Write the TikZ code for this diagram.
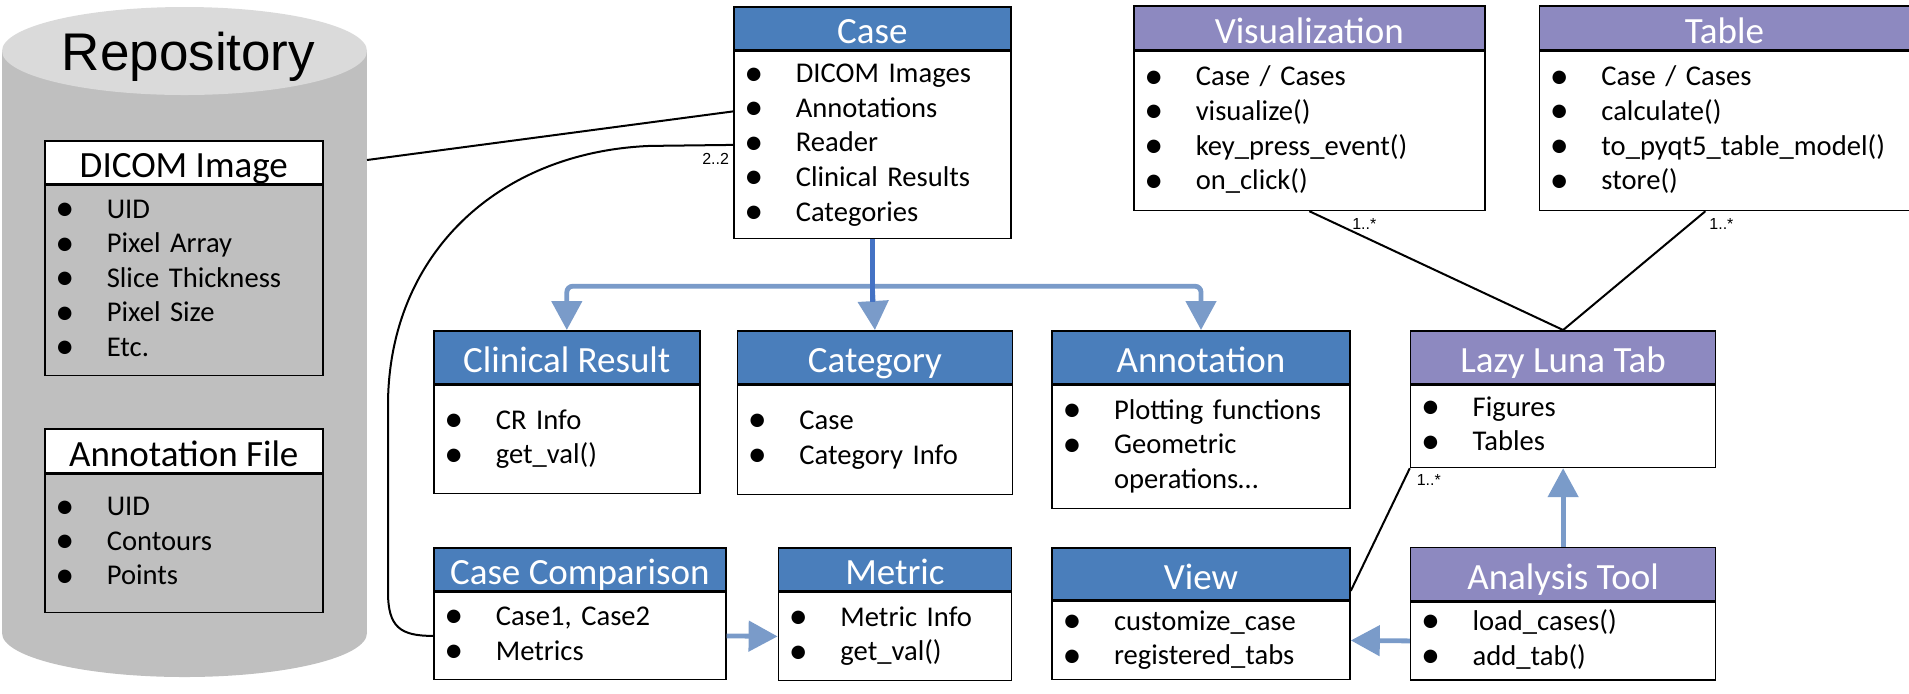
\documentclass[tikz,border=0pt]{standalone}
\usepackage{fontspec}
\setmainfont{Carlito}
\newfontfamily\arialfont{Liberation Sans}
\usetikzlibrary{arrows.meta, positioning, calc}
\definecolor{hdrblue}{RGB}{74,126,187}
\definecolor{hdrpurple}{RGB}{141,137,192}
\definecolor{arrblue}{RGB}{122,155,201}
\definecolor{darkblue}{RGB}{68,114,196}
\definecolor{repogray}{RGB}{191,191,191}
\definecolor{repotop}{RGB}{218,218,218}
\newcommand{\itm}[1]{\hspace*{7pt}\makebox[6pt]{\raisebox{-1.2pt}{\fontsize{19}{19}\selectfont\textbullet}}\hspace*{18pt}#1\strut}
\tikzstyle{cls}    = [rectangle, draw=black, line width=0.8pt, fill=hdrblue, text=white, inner sep=0pt,
                      text height=15.5pt, text depth=0pt, font=\fontsize{18.5}{20}\selectfont, minimum height=26.5pt]
\tikzstyle{pcls}   = [cls, fill=hdrpurple]
\tikzstyle{fcls}   = [cls, fill=white, text=black, minimum height=21.5pt]
\tikzstyle{attrs}  = [rectangle, draw=black, line width=0.8pt, fill=white, inner xsep=0pt, inner ysep=1pt,
                      align=left, font=\fontsize{14.3}{17.3}\selectfont]
\tikzstyle{fattrs} = [attrs, fill=none]
\tikzstyle{assoc}  = [draw=black, line width=1pt]
\tikzstyle{mult}   = [font=\arialfont\fontsize{8}{9}\selectfont, inner sep=0pt]
\tikzstyle{flow}   = [-{Triangle[width=15pt,length=14.5pt]}, draw=arrblue, line width=2.4pt]

\begin{document}
\begin{tikzpicture}[x=0.5pt, y=-0.5pt]
    \useasboundingbox (0,0) rectangle (1909,693);

    % repository
    \fill[repogray] (2,51) rectangle (367,633);
    \fill[repogray] (184.5,633) ellipse [x radius=91.25pt, y radius=22pt];
    \fill[repotop] (184.5,51) ellipse [x radius=91.25pt, y radius=22pt];
    \node[font=\arialfont\fontsize{26.5}{30}\selectfont, anchor=base] (repo) at (188.5,70) {Repository};
    \coordinate (repoedge) at (367,160);

    \node[fcls, minimum width=139pt, anchor=north west] (dicom) at (44,140) {DICOM Image};
    \node[fattrs, text width=139pt, minimum height=95pt, below=0pt of dicom] (dicomb)
        {\itm{UID}\\ \itm{Pixel Array}\\ \itm{Slice Thickness}\\ \itm{Pixel Size}\\ \itm{Etc.}};
    \node[fcls, minimum width=139pt, minimum height=22pt, anchor=north west] (annfile) at (44,428) {Annotation File};
    \node[fattrs, text width=139pt, minimum height=69pt, below=0pt of annfile] (annfileb)
        {\itm{UID}\\ \itm{Contours}\\ \itm{Points}};

    % top row
    \node[cls, minimum width=138.5pt, minimum height=21.5pt, anchor=north west] (case) at (733,6) {Case};
    \node[attrs, text width=138.5pt, minimum height=93.5pt, below=0pt of case] (caseb)
        {\itm{DICOM Images}\\ \itm{Annotations}\\ \itm{Reader}\\ \itm{Clinical Results}\\ \itm{Categories}};
    \node[pcls, minimum width=175.5pt, minimum height=22pt, anchor=north west] (vis) at (1133,5) {Visualization};
    \node[attrs, text width=175.5pt, minimum height=79.5pt, below=0pt of vis] (visb)
        {\itm{Case / Cases}\\ \itm{visualize()}\\ \itm{key\_press\_event()}\\ \itm{on\_click()}};
    \node[pcls, minimum width=185pt, minimum height=22pt, right=26.5pt of vis] (table) {Table};
    \node[attrs, text width=185pt, minimum height=79.5pt, below=0pt of table] (tableb)
        {\itm{Case / Cases}\\ \itm{calculate()}\\ \itm{to\_pyqt5\_table\_model()}\\ \itm{store()}};

    % middle row
    \node[cls, minimum width=133pt, anchor=north west] (clin) at (433,330) {Clinical Result};
    \node[attrs, text width=133pt, minimum height=54pt, below=0pt of clin] (clinb)
        {\itm{CR Info}\\ \itm{get\_val()}};
    \node[cls, minimum width=137.5pt, right=18pt of clin] (cat) {Category};
    \node[attrs, text width=137.5pt, minimum height=54.5pt, below=0pt of cat] (catb)
        {\itm{Case}\\ \itm{Category Info}};
    \node[cls, minimum width=149pt, right=19pt of cat] (annot) {Annotation};
    \node[attrs, text width=149pt, minimum height=61.5pt, below=0pt of annot] (annotb)
        {\itm{Plotting functions}\\ \itm{Geometric}\\ \hspace*{31pt}operations\ldots\strut};
    \node[pcls, minimum width=152.5pt, right=29.5pt of annot] (lazy) {Lazy Luna Tab};
    \node[attrs, text width=152.5pt, minimum height=41pt, below=0pt of lazy] (lazyb)
        {\itm{Figures}\\ \itm{Tables}};

    % bottom row
    \node[cls, minimum width=146pt, minimum height=21.5pt, anchor=north west] (cc) at (433,547) {Case Comparison};
    \node[attrs, text width=146pt, minimum height=43.5pt, below=0pt of cc] (ccb)
        {\itm{Case1, Case2}\\ \itm{Metrics}};
    \node[cls, minimum width=116.5pt, minimum height=21.5pt, right=25.5pt of cc] (met) {Metric};
    \node[attrs, text width=116.5pt, minimum height=44pt, below=0pt of met] (metb)
        {\itm{Metric Info}\\ \itm{get\_val()}};
    \node[cls, minimum width=149pt, minimum height=26pt, right=19.5pt of met.north east, anchor=north west] (view) {View};
    \node[attrs, text width=149pt, minimum height=39pt, below=0pt of view] (viewb)
        {\itm{customize\_case}\\ \itm{registered\_tabs}};
    \node[pcls, minimum width=152.5pt, right=29.5pt of view] (ana) {Analysis Tool};
    \node[attrs, text width=152.5pt, minimum height=39pt, below=0pt of ana] (anab)
        {\itm{load\_cases()}\\ \itm{add\_tab()}};

    % associations
    \draw[assoc] (repoedge) -- ([yshift=16.75pt]caseb.west);
    \draw[assoc] (caseb.west) node[mult, anchor=north east, xshift=-1.5pt, yshift=-3.75pt] {2..2}
        -- ++(-83,1) .. controls +(-150,6) and +(2,-150) .. ++(-262,256) -- ++(0,190)
        .. controls +(0,35) and +(-33,0) .. (ccb.west);
    \draw[assoc] (visb.south) node[mult, anchor=north west, xshift=21pt, yshift=-3pt] {1..*} -- (lazy.north);
    \draw[assoc] ([xshift=-9.5pt]tableb.south) node[mult, anchor=north west, xshift=1.5pt, yshift=-3pt] {1..*} -- (lazy.north);
    \draw[assoc] (lazyb.south west) node[mult, anchor=north west, xshift=3pt, yshift=-2.5pt] {1..*} -- ([yshift=-8.5pt]view.east);

    % flows
    \coordinate (split) at ($(caseb.south)+(0,47)$);
    \draw[flow, rounded corners=3pt] (split) -| (clin.north);
    \draw[flow, rounded corners=3pt] (split) -| (annot.north);
    \draw[flow] (split) -- (cat.north);
    \draw[draw=darkblue, line width=2.5pt] (caseb.south) -- ++(0,63);
    \draw[flow] (ana.north) -- (lazyb.south);
    \draw[flow] (anab.west) -- (viewb.east);
    \draw[flow] (ccb.east) -- (metb.west);
\end{tikzpicture}
\end{document}
